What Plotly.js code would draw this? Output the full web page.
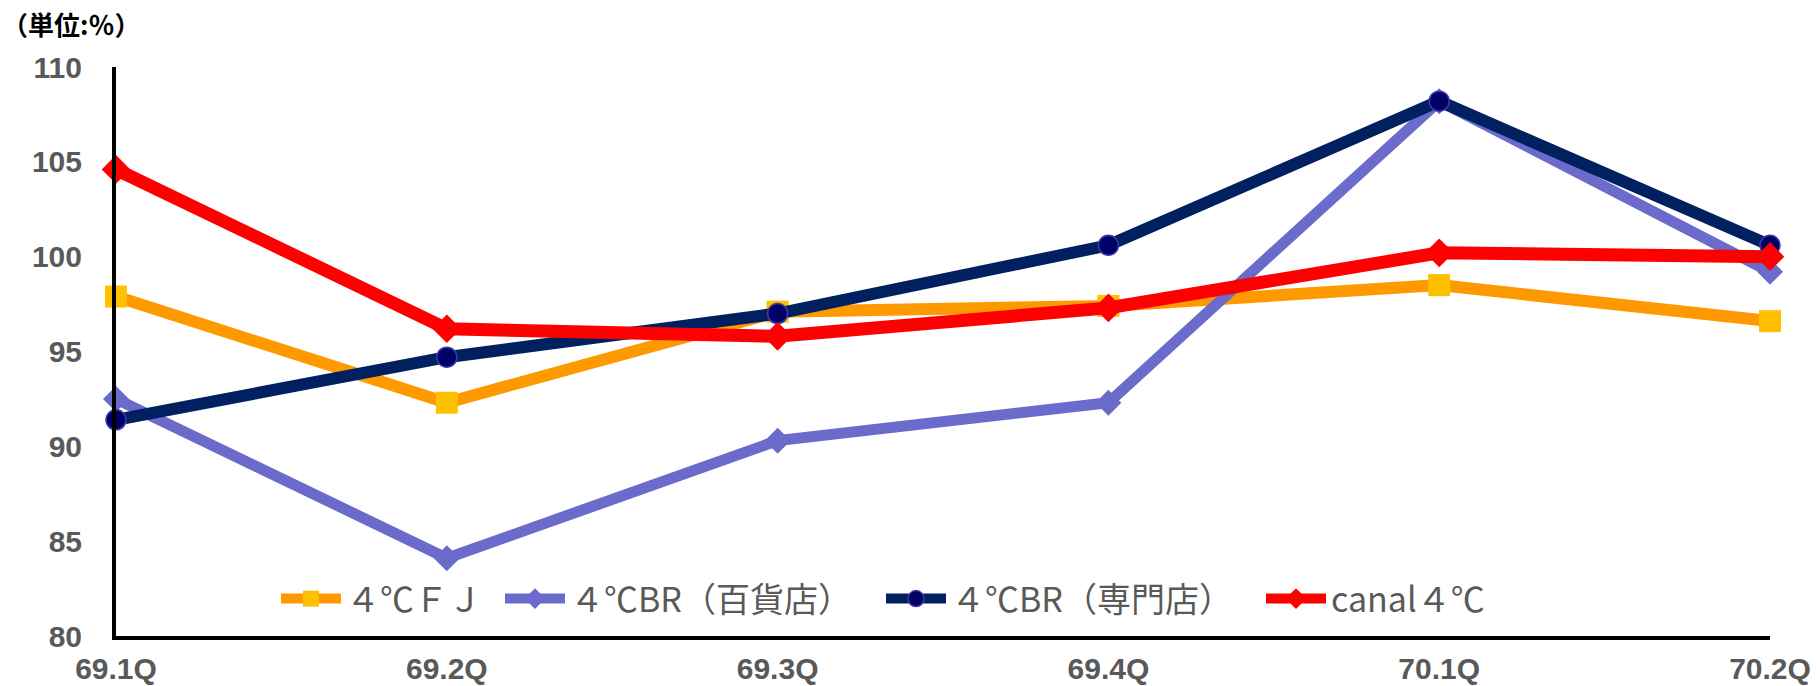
<!DOCTYPE html>
<html>
<head>
<meta charset="utf-8">
<script src="https://cdn.plot.ly/plotly-3.0.1.min.js"></script>
<style>html,body{margin:0;padding:0;background:#fff;}#chart{width:1816px;height:686px;}</style>
</head>
<body>
<div id="chart"></div>
<script>
const categories = ["69.1Q", "69.2Q", "69.3Q", "69.4Q", "70.1Q", "70.2Q"];
const seriesNames = ["４℃ＦＪ", "４℃BR（百貨店）", "４℃BR（専門店）", "canal４℃"];
const fj = [97.9, 92.3, 97.1, 97.4, 98.5, 96.6];
const brDept = [92.5, 84.1, 90.3, 92.3, 108.2, 99.2];
const brSpec = [91.4, 94.7, 97.0, 100.6, 108.2, 100.6];
const canal = [104.6, 96.2, 95.8, 97.3, 100.2, 100.0];
const yTicks = [80, 85, 90, 95, 100, 105, 110];

const traces = [
  {x: categories, y: fj, name: seriesNames[0], legend: "legend", type: "scatter", mode: "lines+markers", cliponaxis: false,
   line: {color: "#FF9900", width: 12}, marker: {symbol: "square", size: 22, color: "#FFC000"}},
  {x: categories, y: brDept, name: seriesNames[1], legend: "legend2", type: "scatter", mode: "lines+markers", cliponaxis: false,
   line: {color: "#6B6BCC", width: 11}, marker: {symbol: "diamond", size: 20, color: "#6B6BCC"}},
  {x: categories, y: brSpec, name: seriesNames[2], legend: "legend3", type: "scatter", mode: "lines+markers", cliponaxis: false,
   line: {color: "#002060", width: 12}, marker: {symbol: "circle", size: 20, color: "#000066", line: {color: "#3A3AA8", width: 1.5}}},
  {x: categories, y: canal, name: seriesNames[3], legend: "legend4", type: "scatter", mode: "lines+markers", cliponaxis: false,
   line: {color: "#FF0000", width: 13}, marker: {symbol: "diamond", size: 22, color: "#FF0000"}}
];

function mkLegend(startPx) {
  return {
    orientation: "h", xref: "paper", yref: "paper",
    x: (startPx - 5 - 116) / 1654, xanchor: "left", y: 0.065, yanchor: "middle",
    font: {family: "Noto Sans CJK JP, sans-serif", size: 34, color: "#595959"},
    bgcolor: "rgba(0,0,0,0)", itemwidth: 60
  };
}

const layout = {
  width: 1816, height: 686,
  paper_bgcolor: "#ffffff", plot_bgcolor: "#ffffff",
  margin: {l: 116, r: 46, t: 67, b: 50, pad: 0},
  showlegend: true,
  legend: mkLegend(281),
  legend2: mkLegend(505),
  legend3: mkLegend(886),
  legend4: mkLegend(1266),
  xaxis: {
    type: "category", range: [0, 5], showgrid: false, zeroline: false,
    showline: true, linecolor: "#000000", linewidth: 4, ticks: "", automargin: false,
    tickfont: {family: "Liberation Sans, Arial, sans-serif", size: 30, color: "#595959", weight: "bold"},
    ticklabelstandoff: 3
  },
  yaxis: {
    range: [80, 110], tickvals: yTicks, showgrid: false, zeroline: false,
    showline: true, linecolor: "#000000", linewidth: 4, ticks: "", automargin: false,
    tickfont: {family: "Liberation Sans, Arial, sans-serif", size: 30, color: "#595959", weight: "bold"},
    ticklabelstandoff: 24
  },
  annotations: [{
    xref: "paper", yref: "paper", x: -116/1654, y: 1 + 44/569, xanchor: "left", yanchor: "middle",
    text: "<b>（単位:％）</b>", showarrow: false,
    font: {family: "Noto Sans CJK JP, sans-serif", size: 26, color: "#000000"}
  }]
};

Plotly.newPlot("chart", traces, layout, {staticPlot: true, displayModeBar: false});
</script>
</body>
</html>
